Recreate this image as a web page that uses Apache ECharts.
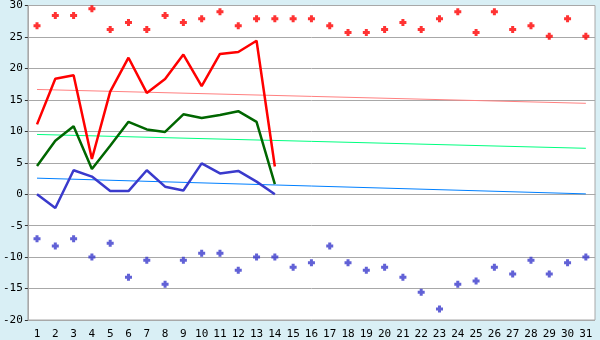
<!DOCTYPE html>
<html>
<head>
<meta charset="utf-8">
<script src="https://cdn.jsdelivr.net/npm/echarts@6/dist/echarts.min.js"></script>
<style>
html,body{margin:0;padding:0;background:#d9eff5;}
#c{width:600px;height:340px;}
</style>
</head>
<body>
<div id="c"></div>
<script>
var days = ['1','2','3','4','5','6','7','8','9','10','11','12','13','14','15','16','17','18','19','20','21','22','23','24','25','26','27','28','29','30','31'];
var maxPoints = [26.8,28.4,28.4,29.5,26.2,27.3,26.2,28.4,27.3,27.9,29.0,26.8,27.9,27.9,27.9,27.9,26.8,25.7,25.7,26.2,27.3,26.2,27.9,29.0,25.7,29.0,26.2,26.8,25.1,27.9,25.1];
var minPoints = [-7.1,-8.25,-7.1,-10,-7.8,-13.2,-10.5,-14.3,-10.5,-9.4,-9.4,-12.1,-10,-10,-11.6,-10.9,-8.25,-10.9,-12.1,-11.6,-13.2,-15.6,-18.25,-14.3,-13.8,-11.6,-12.7,-10.5,-12.7,-10.9,-10];
var redLine = [11.1,18.35,18.9,5.6,16.3,21.7,16.1,18.3,22.2,17.2,22.3,22.6,24.4,4.4];
var greenLine = [4.5,8.5,10.8,4.0,7.7,11.5,10.3,9.9,12.7,12.1,12.6,13.2,11.5,1.6];
var blueLine = [0,-2.2,3.8,2.8,0.5,0.5,3.8,1.2,0.6,4.9,3.3,3.7,2.0,0];
var redTrend = [[0,16.65],[30,14.45]];
var greenTrend = [[0,9.5],[30,7.3]];
var blueTrend = [[0,2.55],[30,0.05]];
var yTicks = {min:-20, max:30, interval:5};

var plus = 'path://M2,0H5V2H7V5H5V7H2V5H0V2H2Z';
var font = 'DejaVu Sans Mono';
var chart = echarts.init(document.getElementById('c'), null, {renderer:'canvas'});
chart.setOption({
  animation:false,
  backgroundColor:'#d9eff5',
  grid:{left:27,right:5,top:5,bottom:20,show:true,backgroundColor:'#ffffff',borderColor:'#a8a8a8',borderWidth:1},
  xAxis:{type:'category',data:days,boundaryGap:true,
    axisLine:{lineStyle:{color:'#a8a8a8',width:1}},
    axisTick:{alignWithLabel:true,length:5,lineStyle:{color:'#333'}},
    axisLabel:{color:'#000',fontFamily:font,fontSize:11,margin:9,interval:0},
    splitLine:{show:false}},
  yAxis:{type:'value',min:yTicks.min,max:yTicks.max,interval:yTicks.interval,
    axisLine:{show:true,lineStyle:{color:'#a8a8a8'}},
    axisTick:{show:true,length:3,lineStyle:{color:'#333'}},
    axisLabel:{color:'#000',fontFamily:font,fontSize:11,margin:5},
    splitLine:{lineStyle:{color:'#a8a8a8',width:1}}},
  series:[
    {type:'line',data:redTrend,symbol:'none',lineStyle:{color:'#ff8080',width:1},z:2},
    {type:'line',data:greenTrend,symbol:'none',lineStyle:{color:'#00ff80',width:1},z:2},
    {type:'line',data:blueTrend,symbol:'none',lineStyle:{color:'#0080ff',width:1},z:2},
    {type:'line',data:redLine,symbol:'none',lineStyle:{color:'#ff0000',width:2.5},z:3},
    {type:'line',data:greenLine,symbol:'none',lineStyle:{color:'#006600',width:2.5},z:3},
    {type:'line',data:blueLine,symbol:'none',lineStyle:{color:'#3a3acc',width:2.5},z:3},
    {type:'scatter',data:maxPoints,symbol:plus,symbolSize:7,itemStyle:{color:'#ff0000'},z:4},
    {type:'scatter',data:minPoints,symbol:plus,symbolSize:7,itemStyle:{color:'#3a3acc'},z:4}
  ]
});
</script>
</body>
</html>
